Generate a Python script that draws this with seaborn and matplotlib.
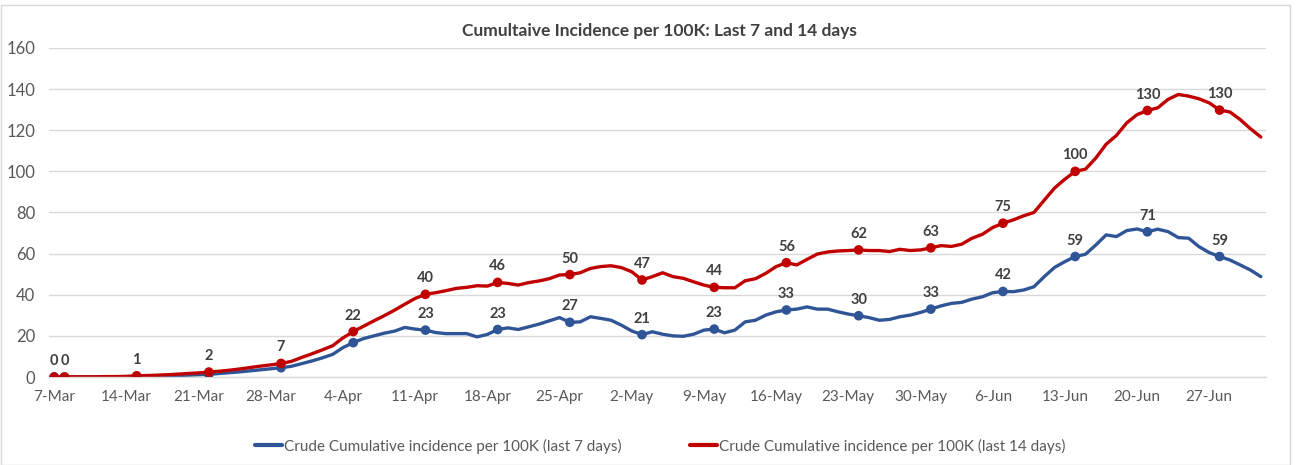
import matplotlib
matplotlib.use("Agg")
import matplotlib.pyplot as plt
from matplotlib.lines import Line2D
from matplotlib.patches import Rectangle
import seaborn as sns
import pandas as pd
import numpy as np

# ---------------- data ----------------
start_date = "2020-03-07"
n_days = 118
series_7 = "Crude Cumulative incidence per 100K (last 7 days)"
series_14 = "Crude Cumulative incidence per 100K (last 14 days)"

last7 = [0, 0, 0, 0, 0.1, 0.1, 0.1, 0.2, 0.2, 0.3, 0.4, 0.5, 0.7, 0.9, 1.1, 1.3,
         1.7, 2.1, 2.5, 3.0, 3.5, 4.0, 4.5,
         5.2, 6.5, 7.8, 9.3, 11.0, 14.3, 16.7, 18.7, 20.0, 21.3, 22.3, 24.1, 23.3, 22.8,
         21.6, 21.1, 21.1, 21.1, 19.5, 20.7, 23.1, 23.9, 23.1, 24.4, 25.7, 27.3, 28.9, 26.6,
         26.8, 29.3, 28.5, 27.6, 25.2, 22.4, 20.6, 22.0, 20.8, 20.0, 19.8, 20.8, 22.8, 23.3,
         21.5, 22.8, 26.8, 27.6, 30.1, 31.7, 32.6, 33.0, 34.1, 33.0, 33.0, 31.7, 30.6, 29.8,
         28.9, 27.6, 28.0, 29.3, 30.1, 31.4, 33.0, 34.6, 35.8, 36.3, 37.9, 39.0, 41.0, 41.6,
         41.5, 42.3, 43.9, 48.8, 53.3, 56.1, 58.6, 59.7, 64.2, 69.1, 68.3, 71.2, 72.0, 70.6,
         71.9, 70.7, 67.8, 67.5, 63.4, 60.5, 58.6, 56.9, 54.5, 52.0, 48.8]

last14 = [0, 0, 0.1, 0.1, 0.1, 0.2, 0.2, 0.3, 0.6, 0.7, 0.9, 1.1, 1.4, 1.7, 2.0, 2.4,
          2.8, 3.3, 3.9, 4.6, 5.3, 5.9, 6.6,
          7.6, 9.5, 11.3, 13.2, 15.2, 19.0, 22.1, 24.7, 27.3, 29.8, 32.5, 35.4, 38.2, 40.2,
          41.0, 42.0, 43.1, 43.6, 44.4, 44.2, 46.0, 45.5, 44.7, 45.9, 46.7, 47.8, 49.6, 49.8,
          50.7, 52.8, 53.7, 54.1, 53.2, 51.2, 47.2, 48.8, 50.7, 48.8, 48.0, 46.3, 44.7, 43.6,
          43.4, 43.4, 46.8, 47.8, 50.4, 53.7, 55.6, 54.5, 57.2, 59.8, 60.8, 61.3, 61.5, 61.8,
          61.5, 61.5, 61.0, 62.1, 61.5, 61.8, 62.8, 63.9, 63.5, 64.6, 67.5, 69.4, 72.7, 74.8,
          76.4, 78.4, 80.0, 86.0, 91.9, 96.2, 100.0, 101.1, 106.5, 113.2, 117.5, 123.6, 127.6, 129.6,
          130.9, 135.0, 137.4, 136.6, 135.3, 133.3, 129.8, 128.9, 125.2, 120.7, 116.7]

# days (index from start) that carry a marker / a data label
marker_days = [0, 1, 8, 15, 22, 29, 36, 43, 50, 57, 64, 71, 78, 85, 92, 99, 106, 113]
label_days_14 = marker_days
label_days_7 = [36, 43, 50, 57, 64, 71, 78, 85, 92, 99, 106, 113]
tick_days = list(range(0, 113, 7))

# ---------------- style ----------------
BLUE = "#2F5597"
RED = "#C00000"
GRID = "#D9D9D9"
TXT = "#595959"
LBL = "#404040"

sns.set_theme(style="white")
plt.rcParams["font.family"] = ["Lato", "DejaVu Sans"]

dates = pd.date_range(start_date, periods=n_days)
day = np.arange(n_days)
df = pd.DataFrame({
    "day": np.concatenate([day, day]),
    "value": last7 + last14,
    "series": [series_7] * n_days + [series_14] * n_days,
})
mk = df[df["day"].isin(marker_days)]

fig = plt.figure(figsize=(12.96, 4.65), dpi=100)
ax = fig.add_axes([49 / 1296, 1 - 377 / 465, (1266 - 49) / 1296, (377 - 48) / 465])

pal = {series_7: BLUE, series_14: RED}
sns.lineplot(data=df, x="day", y="value", hue="series", palette=pal,
             linewidth=2.4, ax=ax, legend=False)
sns.scatterplot(data=mk, x="day", y="value", hue="series", palette=pal,
                s=48, edgecolor="none", ax=ax, legend=False, zorder=3)

v7 = dict(zip(day, last7))
v14 = dict(zip(day, last14))
for d in label_days_14:
    ax.annotate(f"{v14[d]:.0f}", (d, v14[d]), xytext=(0, 11.5), textcoords="offset points",
                ha="center", va="center", fontsize=10.5, fontweight="bold", color=LBL)
for d in label_days_7:
    ax.annotate(f"{v7[d]:.0f}", (d, v7[d]), xytext=(0, 11.5), textcoords="offset points",
                ha="center", va="center", fontsize=10.5, fontweight="bold", color=LBL)

ax.set_xlim(-0.5, n_days - 0.5)
ax.set_ylim(0, 160)
ax.set_yticks(range(0, 161, 20))
ax.yaxis.grid(True, color=GRID, linewidth=1)
ax.xaxis.grid(False)
ax.set_axisbelow(True)
for s in ["top", "right", "left"]:
    ax.spines[s].set_visible(False)
ax.spines["bottom"].set_color(GRID)
ax.spines["bottom"].set_linewidth(1)

ax.set_xticks(tick_days)
ax.set_xticklabels([f"{dates[d].day}-{dates[d].strftime('%b')}" for d in tick_days])
ax.set_xticks([d - 0.5 for d in tick_days], minor=True)
ax.tick_params(axis="x", which="major", length=0, pad=9, labelsize=11, labelcolor=TXT)
ax.tick_params(axis="x", which="minor", length=5, width=1, color=GRID)
ax.tick_params(axis="y", length=0, pad=10, labelsize=12, labelcolor=TXT)
ax.set_xlabel("")
ax.set_ylabel("")

fig.text(659 / 1296, 1 - 31 / 465, "Cumultaive Incidence per 100K: Last 7 and 14 days",
         ha="center", va="center", fontsize=12.5, fontweight="bold", color=LBL)

handles = [Line2D([], [], color=BLUE, lw=3), Line2D([], [], color=RED, lw=3)]
fig.legend(handles, [series_7, series_14], loc="center", bbox_to_anchor=(660 / 1296, 1 - 446 / 465),
           ncol=2, frameon=False, fontsize=11, labelcolor=TXT, handlelength=1.8,
           handletextpad=0.1, columnspacing=4.5)

fig.patches.append(Rectangle((0.5 / 1296, 0), 1289.5 / 1296, 1 - 5.5 / 465, transform=fig.transFigure,
                             fill=False, edgecolor=GRID, linewidth=1))

fig.savefig("out.png", dpi=100)
